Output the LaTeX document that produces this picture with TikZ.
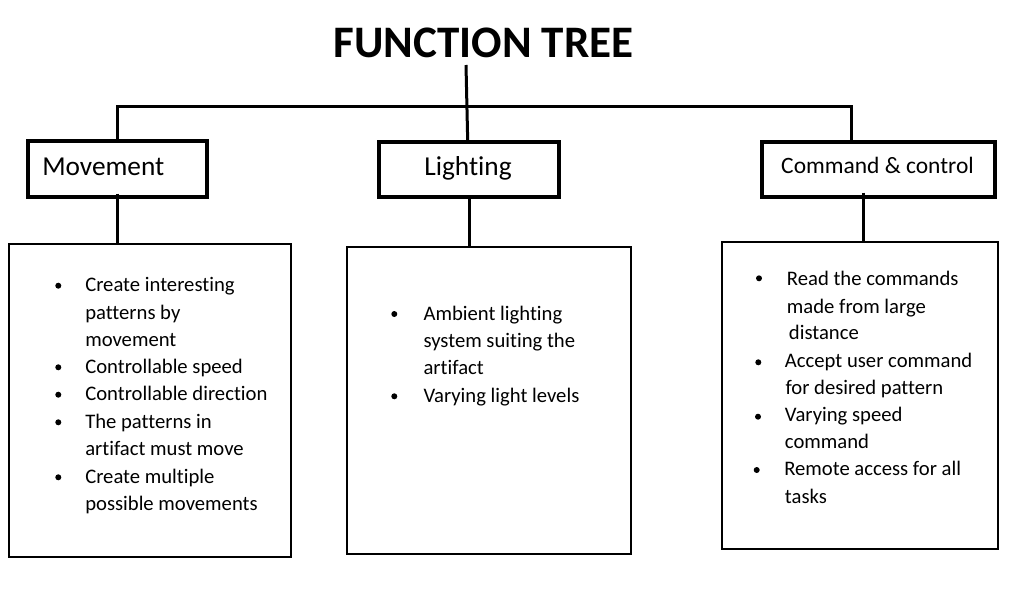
\documentclass[tikz,border=0pt]{standalone}
\usepackage{fontspec}
\setmainfont{Carlito}[Ligatures={NoCommon}]
\begin{document}
\begin{tikzpicture}[x=0.75pt,y=-0.75pt,
  topbox/.style={draw, line width=3pt, inner sep=0pt},
  botbox/.style={draw, line width=1.5pt, inner sep=0pt},
  conn/.style={line width=2.25pt, line join=miter},
  txt/.style={anchor=base west, inner sep=0pt, font=\fontsize{15.5}{18}\selectfont},
  bul/.style={circle, fill, inner sep=0pt, minimum size=4.5pt},
  head/.style={inner sep=0pt, font=\fontsize{20.5}{24}\selectfont}]
\useasboundingbox (0,0) rectangle (1016,604);
% title
\node[anchor=base, inner sep=0pt, font=\fontsize{33.8}{40}\selectfont\bfseries] (title) at (483.5,57) {FUNCTION TREE};
% top boxes
\node[topbox, minimum width=134.25pt, minimum height=42pt] (mov) at (117.5,169) {};
\node[topbox, minimum width=135pt, minimum height=41.25pt] (lig) at (469,169.5) {};
\node[topbox, minimum width=174.75pt, minimum height=41.25pt] (cmd) at (878.5,169.5) {};
\node[head, anchor=base west] (movt) at (42,175) {Movement};
\node[head, anchor=base] (ligt) at (468,175.5) {Lighting};
\node[inner sep=0pt, font=\fontsize{17.6}{21}\selectfont, anchor=base] (cmdt) at (877.5,173.3) {Command \& control};
% bottom boxes
\node[botbox, minimum width=211.3pt, minimum height=234.75pt] (movb) at (150.2,400.5) {};
\node[botbox, minimum width=213pt, minimum height=230.25pt] (ligb) at (489,400.5) {};
\node[botbox, minimum width=206.6pt, minimum height=229.9pt] (cmdb) at (860.2,395.75) {};
% connectors
\coordinate (jt) at (466,65);
\coordinate (jl) at (117.5,106.5);
\coordinate (jr) at (851,106.5);
\coordinate (cc) at (863,192.5);
\draw[conn] (jt) -- ([xshift=-1pt]lig.north);
\draw[conn] (mov.north) -- (jl) -- (jr) -- (jr |- cmd.north);
\draw[conn] ([yshift=4pt]mov.south) -- (mov.south |- movb.north);
\draw[conn] ([yshift=3pt]lig.south) -- (lig.south |- ligb.north);
\draw[conn] (cc) -- (cc |- cmdb.north);
% left box text
\node[bul] (mb1) at (58.3,285.7) {};
\node[bul] (mb2) at (58.3,367.3) {};
\node[bul] (mb3) at (58.3,394.7) {};
\node[bul] (mb4) at (58.3,422.3) {};
\node[bul] (mb5) at (58.3,477.3) {};
\node[txt] (m1) at (85,291.7) {Create interesting};
\node[txt] (m2) at (85,319) {patterns by};
\node[txt] (m3) at (85,346) {movement};
\node[txt] (m4) at (85,373.3) {Controllable speed};
\node[txt] (m5) at (85,400.7) {Controllable direction};
\node[txt] (m6) at (85,428.3) {The patterns in};
\node[txt] (m7) at (85,455) {artifact must move};
\node[txt] (m8) at (85,483.3) {Create multiple};
\node[txt] (m9) at (85,510.7) {possible movements};
% middle box text
\node[bul] (lb1) at (394.3,314) {};
\node[bul] (lb2) at (394.3,396.3) {};
\node[txt] (l1) at (423.3,320) {Ambient lighting};
\node[txt] (l2) at (423.3,347.3) {system suiting the};
\node[txt] (l3) at (423.3,374.3) {artifact};
\node[txt] (l4) at (423.3,402.3) {Varying light levels};
% right box text
\node[bul] (cb1) at (759,278.3) {};
\node[bul] (cb2) at (758.3,362.3) {};
\node[bul] (cb3) at (758,416.7) {};
\node[bul] (cb4) at (756.7,470) {};
\node[txt] (c1) at (786.7,285.7) {Read the commands};
\node[txt] (c2) at (786.7,313.3) {made from large};
\node[txt] (c3) at (788.7,339) {distance};
\node[txt] (c4) at (784.7,367.3) {Accept user command};
\node[txt] (c5) at (785.3,394.3) {for desired pattern};
\node[txt] (c6) at (784.7,421.7) {Varying speed};
\node[txt] (c7) at (784.7,448.3) {command};
\node[txt] (c8) at (784,475.7) {Remote access for all};
\node[txt] (c9) at (784.7,503.3) {tasks};
\end{tikzpicture}
\end{document}
